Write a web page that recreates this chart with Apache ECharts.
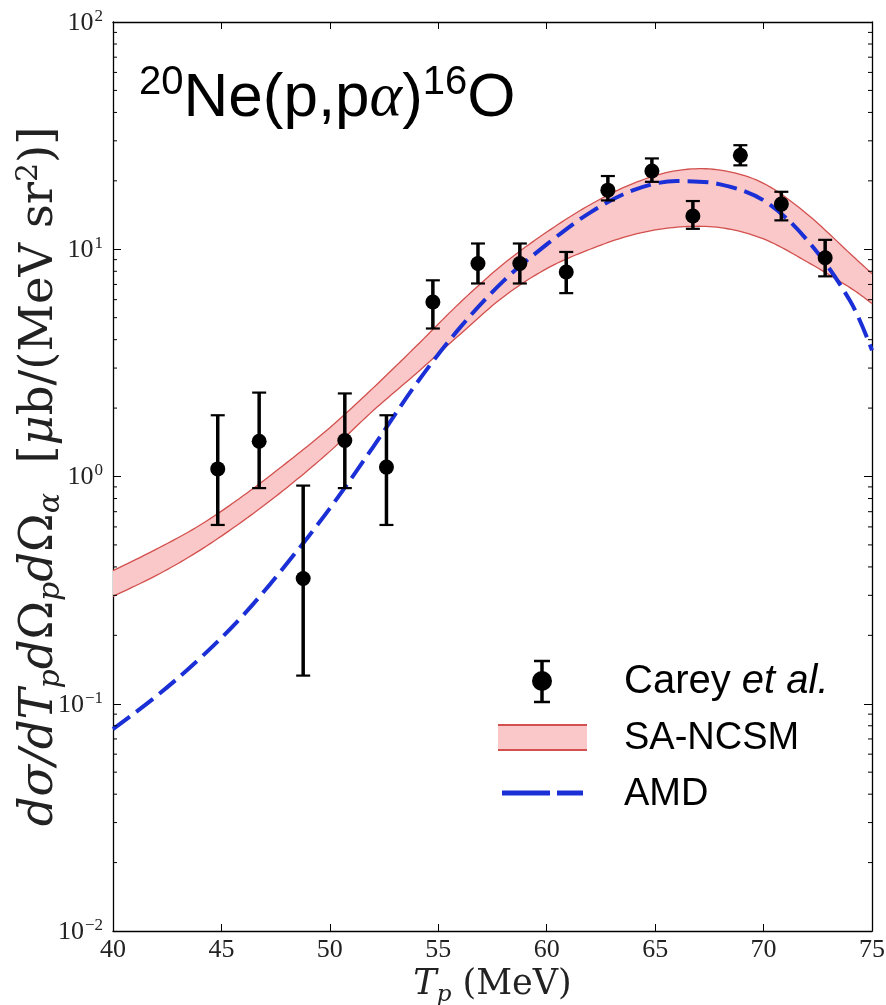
<!DOCTYPE html>
<html><head><meta charset="utf-8">
<script src="https://cdn.jsdelivr.net/npm/echarts@6/dist/echarts.min.js"></script>
<style>html,body{margin:0;padding:0;background:#fff}#c{width:886px;height:1005px}</style>
</head><body><div id="c"></div>
<script>
// Experimental data (Carey et al.)
const expX  = [44.83, 46.74, 48.77, 50.69, 52.61, 54.75, 56.83, 58.76, 60.9, 62.82, 64.85, 66.74, 68.93, 70.82, 72.84];
const expY  = [1.08, 1.43, 0.356, 1.44, 1.10, 5.86, 8.65, 8.65, 7.94, 18.2, 22.1, 14.0, 25.9, 15.8, 9.17];
const expLo = [0.612, 0.889, 0.133, 0.889, 0.612, 4.48, 7.07, 7.07, 6.41, 16.4, 19.8, 12.3, 23.4, 13.4, 7.6];
const expHi = [1.86, 2.34, 0.912, 2.32, 1.86, 7.3, 10.6, 10.6, 9.73, 21.0, 25.1, 16.3, 28.7, 17.9, 11.0];
// Theory curves
const curveX   = [40, 42, 44, 46, 48, 50, 52, 54, 56, 58, 60, 62, 64, 66, 68, 70, 72, 74, 75];
const ncsmUp   = [0.385, 0.479, 0.61, 0.822, 1.148, 1.64, 2.455, 3.76, 5.82, 8.61, 11.9, 15.7, 19.5, 22.2, 22.3, 19.5, 14.3, 9.55, 7.8];
const ncsmLow  = [0.297, 0.367, 0.473, 0.638, 0.891, 1.29, 1.95, 2.85, 4.22, 6.17, 8.22, 10.0, 11.6, 12.5, 12.45, 11.1, 8.81, 6.76, 5.77];
const amd      = [0.0774, 0.108, 0.158, 0.245, 0.412, 0.724, 1.35, 2.57, 4.52, 7.24, 10.5, 14.5, 18.2, 19.95, 19.3, 16.4, 11.0, 5.9, 3.59];
// Axis ticks
const xTicks = [40, 45, 50, 55, 60, 65, 70, 75];
const minorTickVals = [];
[0.01, 0.1, 1, 10].forEach(d => { for (let m = 2; m <= 9; m++) minorTickVals.push(+(m * d).toPrecision(3)); });

const chart = echarts.init(document.getElementById('c'), null, {renderer: 'canvas'});
const serif = 'Liberation Serif';
const mathSerif = 'DejaVu Serif';
const sans = 'Liberation Sans';

function yLabel(v) {
  const e = Math.round(Math.log10(v));
  const s = e < 0 ? '−' + (-e) : String(e);
  return '{b|10}{s|' + s + '}';
}

// Catmull-Rom smoothing of pixel points (rendering only)
function smoothPts(pts, steps) {
  const out = [];
  for (let i = 0; i < pts.length - 1; i++) {
    const p0 = pts[Math.max(i - 1, 0)], p1 = pts[i], p2 = pts[i + 1], p3 = pts[Math.min(i + 2, pts.length - 1)];
    for (let s = 0; s < steps; s++) {
      const t = s / steps, t2 = t * t, t3 = t2 * t;
      const f = (a, b, c, d) => 0.5 * ((2 * b) + (-a + c) * t + (2 * a - 5 * b + 4 * c - d) * t2 + (-a + 3 * b - 3 * c + d) * t3);
      out.push([f(p0[0], p1[0], p2[0], p3[0]), f(p0[1], p1[1], p2[1], p3[1])]);
    }
  }
  out.push(pts[pts.length - 1]);
  return out;
}

const option = {
  animation: false,
  backgroundColor: '#fff',
  grid: {left: 113, right: 14, top: 22, bottom: 74, containLabel: false, outerBoundsMode: 'none'},
  xAxis: [{
    type: 'value', min: 40, max: 75, interval: 5, position: 'bottom',
    axisLine: {onZero: false, lineStyle: {color: '#000', width: 1.3}},
    axisTick: {inside: true, length: 7, lineStyle: {color: '#000', width: 1}},
    axisLabel: {color: '#222', fontFamily: serif, fontSize: 26, margin: 6},
    splitLine: {show: false},
    name: '{i|T}{sub|p}{r| (MeV)}', nameLocation: 'middle', nameGap: 32,
    nameTextStyle: {rich: {
      i: {fontFamily: mathSerif, fontStyle: 'italic', fontSize: 35, color: '#222', lineHeight: 42, verticalAlign: 'middle'},
      sub: {fontFamily: mathSerif, fontStyle: 'italic', fontSize: 23, color: '#222', lineHeight: 22, verticalAlign: 'bottom'},
      r: {fontFamily: mathSerif, fontSize: 35, color: '#222', lineHeight: 42, verticalAlign: 'middle'}
    }}
  }, {
    type: 'value', min: 40, max: 75, interval: 5, position: 'top',
    axisLine: {onZero: false, lineStyle: {color: '#000', width: 1.3}},
    axisTick: {inside: true, length: 7, lineStyle: {color: '#000', width: 1}},
    axisLabel: {show: false}, splitLine: {show: false}
  }],
  yAxis: [{
    type: 'log', min: 0.01, max: 100, logBase: 10, position: 'left',
    axisLine: {onZero: false, lineStyle: {color: '#000', width: 1.3}},
    axisTick: {inside: true, length: 8, lineStyle: {color: '#000', width: 1}},
    axisLabel: {formatter: yLabel, margin: 10, rich: {
      b: {fontFamily: serif, fontSize: 26, color: '#222', lineHeight: 28, verticalAlign: 'bottom'},
      s: {fontFamily: serif, fontSize: 17, color: '#222', lineHeight: 28, verticalAlign: 'top', padding: [0, 0, 8, 1]}
    }},
    splitLine: {show: false},
    name: '{i|dσ/dT}{sub|p}{i|d}{r|Ω}{sub|p}{i|d}{r|Ω}{sub|α}{r|  [}{i|μ}{r|b/(MeV sr}{sup|2}{r|)]}',
    nameLocation: 'middle', nameRotate: 90, nameGap: 47, nameMoveOverlap: false,
    nameTextStyle: {rich: {
      i: {fontFamily: mathSerif, fontStyle: 'italic', fontSize: 46.5, color: '#222', lineHeight: 52, verticalAlign: 'middle'},
      r: {fontFamily: mathSerif, fontSize: 46.5, color: '#222', lineHeight: 52, verticalAlign: 'middle'},
      sub: {fontFamily: mathSerif, fontStyle: 'italic', fontSize: 30, color: '#222', lineHeight: 25, verticalAlign: 'bottom'},
      sup: {fontFamily: mathSerif, fontSize: 30, color: '#222', lineHeight: 29, verticalAlign: 'top'}
    }}
  }, {
    type: 'log', min: 0.01, max: 100, logBase: 10, position: 'right',
    axisLine: {onZero: false, lineStyle: {color: '#000', width: 1.3}},
    axisTick: {inside: true, length: 8, lineStyle: {color: '#000', width: 1}},
    axisLabel: {show: false}, splitLine: {show: false}
  }],
  series: [
    { // minor ticks for the log axis (left and right)
      type: 'custom', xAxisIndex: 0, yAxisIndex: 0, silent: true, z: 5,
      data: minorTickVals.map(v => [v]),
      renderItem: function (params, api) {
        const v = api.value(0);
        const pl = api.coord([40, v]);
        const pr = api.coord([75, v]);
        return {type: 'group', children: [
          {type: 'line', shape: {x1: pl[0], y1: pl[1], x2: pl[0] + 4, y2: pl[1]}, style: {stroke: '#000', lineWidth: 1}},
          {type: 'line', shape: {x1: pr[0], y1: pr[1], x2: pr[0] - 4, y2: pr[1]}, style: {stroke: '#000', lineWidth: 1}}
        ]};
      }
    },
    { // SA-NCSM band
      name: 'SA-NCSM', type: 'custom', xAxisIndex: 0, yAxisIndex: 0, silent: true, z: 2,
      data: [[0]],
      renderItem: function (params, api) {
        const up = smoothPts(curveX.map((x, i) => api.coord([x, ncsmUp[i]])), 12);
        const lo = smoothPts(curveX.map((x, i) => api.coord([x, ncsmLow[i]])), 12);
        const poly = up.concat(lo.slice().reverse());
        return {type: 'group', children: [
          {type: 'polygon', shape: {points: poly}, style: {fill: '#fac8c8', stroke: null}},
          {type: 'polyline', shape: {points: up}, style: {stroke: '#d2504e', lineWidth: 1.3, fill: null}},
          {type: 'polyline', shape: {points: lo}, style: {stroke: '#d2504e', lineWidth: 1.3, fill: null}}
        ]};
      }
    },
    {
      name: 'AMD', type: 'line', xAxisIndex: 0, yAxisIndex: 0, smooth: 0.35, showSymbol: false, z: 3,
      data: curveX.map((x, i) => [x, amd[i]]),
      lineStyle: {color: '#1a2fd6', width: 4, type: [21, 8]}
    },
    { // error bars
      name: 'Carey err', type: 'custom', xAxisIndex: 0, yAxisIndex: 0, silent: true, z: 4,
      data: expX.map((x, i) => [x, expLo[i], expHi[i]]),
      renderItem: function (params, api) {
        const lo = api.coord([api.value(0), api.value(1)]);
        const hi = api.coord([api.value(0), api.value(2)]);
        const c = 7;
        return {type: 'group', children: [
          {type: 'line', shape: {x1: lo[0], y1: lo[1], x2: hi[0], y2: hi[1]}, style: {stroke: '#000', lineWidth: 3.5}},
          {type: 'line', shape: {x1: lo[0] - c, y1: lo[1], x2: lo[0] + c, y2: lo[1]}, style: {stroke: '#000', lineWidth: 2.2}},
          {type: 'line', shape: {x1: hi[0] - c, y1: hi[1], x2: hi[0] + c, y2: hi[1]}, style: {stroke: '#000', lineWidth: 2.2}}
        ]};
      }
    },
    {
      name: 'Carey et al.', type: 'scatter', xAxisIndex: 0, yAxisIndex: 0, z: 6,
      symbol: 'circle', symbolSize: 15,
      data: expX.map((x, i) => [x, expY[i]]),
      itemStyle: {color: '#000', opacity: 1}
    }
  ],
  graphic: [
    { // reaction title
      type: 'text', left: 139, top: 63, z: 10,
      style: {
        text: '{sup|20}{m|Ne(p,p}{a|α}{m|)}{sup|16}{m|O}',
        rich: {
          m: {fontFamily: sans, fontSize: 62, fill: '#000', lineHeight: 67, verticalAlign: 'bottom'},
          a: {fontFamily: serif, fontStyle: 'italic', fontSize: 62, fill: '#000', lineHeight: 67, verticalAlign: 'bottom'},
          sup: {fontFamily: sans, fontSize: 40, fill: '#000', lineHeight: 41, verticalAlign: 'top'}
        }
      }
    },
    // legend: Carey et al.
    {type: 'line', z: 10, shape: {x1: 542, y1: 661, x2: 542, y2: 702}, style: {stroke: '#000', lineWidth: 3.5}},
    {type: 'line', z: 10, shape: {x1: 534, y1: 661, x2: 550, y2: 661}, style: {stroke: '#000', lineWidth: 2.5}},
    {type: 'line', z: 10, shape: {x1: 534, y1: 702, x2: 550, y2: 702}, style: {stroke: '#000', lineWidth: 2.5}},
    {type: 'circle', z: 10, shape: {cx: 542, cy: 681, r: 10}, style: {fill: '#000'}},
    {type: 'text', z: 10, left: 624, top: 662, style: {
      text: '{n|Carey }{it|et al.}',
      rich: {n: {fontFamily: sans, fontSize: 40, fill: '#000'}, it: {fontFamily: sans, fontStyle: 'italic', fontSize: 40, fill: '#000'}}
    }},
    // legend: SA-NCSM
    {type: 'rect', z: 10, shape: {x: 498, y: 725, width: 89, height: 25}, style: {fill: '#fac8c8'}},
    {type: 'line', z: 10, shape: {x1: 498, y1: 725, x2: 587, y2: 725}, style: {stroke: '#d2504e', lineWidth: 2}},
    {type: 'line', z: 10, shape: {x1: 498, y1: 750, x2: 587, y2: 750}, style: {stroke: '#d2504e', lineWidth: 2}},
    {type: 'text', z: 10, left: 624, top: 720, style: {text: 'SA-NCSM', fontFamily: sans, fontSize: 38, fill: '#000'}},
    // legend: AMD
    {type: 'line', z: 10, shape: {x1: 502, y1: 793, x2: 550, y2: 793}, style: {stroke: '#1a2fd6', lineWidth: 5}},
    {type: 'line', z: 10, shape: {x1: 557, y1: 793, x2: 583, y2: 793}, style: {stroke: '#1a2fd6', lineWidth: 5}},
    {type: 'text', z: 10, left: 624, top: 776, style: {text: 'AMD', fontFamily: sans, fontSize: 38, fill: '#000'}}
  ]
};
chart.setOption(option);
</script>
</body></html>
